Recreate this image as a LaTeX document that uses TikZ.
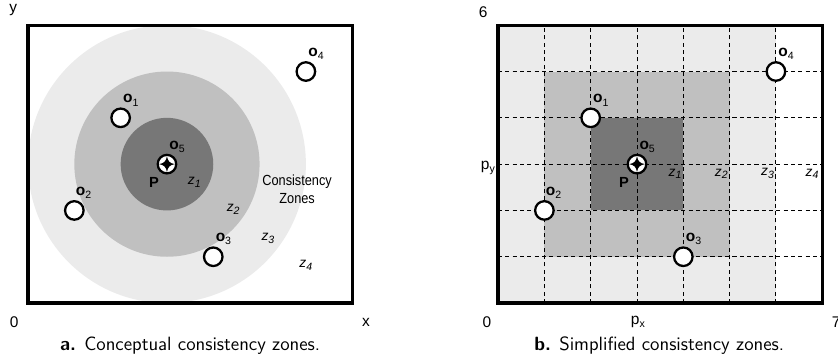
\documentclass[tikz,border=0pt]{standalone}
\usepackage{fontspec}
\newfontfamily\arial{Liberation Sans}
\definecolor{zdark}{HTML}{777777}
\definecolor{zmid}{HTML}{C0C0C0}
\definecolor{zlight}{HTML}{EBEBEB}
\newcommand{\lsub}[1]{\raisebox{-0.4ex}{\fontsize{6.5}{7}\selectfont #1}}
\tikzset{
  frame/.style={draw=black, line width=2pt},
  obj/.style={circle, draw=black, fill=white, line width=1.4pt, minimum size=0.40cm, inner sep=0pt},
  lbl/.style={font=\arial\fontsize{9.5}{10}\selectfont, inner sep=0pt},
  zlbl/.style={font=\arial\itshape\fontsize{8.5}{10}\selectfont, inner sep=0pt},
  axis/.style={font=\arial\fontsize{9.5}{11}\selectfont, inner sep=0pt},
  capt/.style={font=\sffamily\fontsize{11.8}{14}\selectfont, inner sep=0pt},
  gridline/.style={draw=black, line width=0.6pt, dash pattern=on 2.5pt off 2pt},
  pstar/.style={fill=black}
}
\newcommand{\pstarat}[1]{%
  \fill[pstar] (#1) ++(0,0.17) .. controls +(0.02,-0.11) and +(-0.11,0.02) .. ++(0.17,-0.17)
     .. controls +(-0.11,-0.02) and +(0.02,0.11) .. ++(-0.17,-0.17)
     .. controls +(-0.02,0.11) and +(0.11,-0.02) .. ++(-0.17,0.17)
     .. controls +(0.11,0.02) and +(-0.02,-0.11) .. cycle;}
\begin{document}
\begin{tikzpicture}
\useasboundingbox (-0.605,-1.296) rectangle (17.49,6.544);
% ---------- left panel ----------
\begin{scope}
  \begin{scope}
    \clip (0,0) rectangle (7,6);
    \fill[zlight] (3,3) circle (3);
    \fill[zmid] (3,3) circle (2);
    \fill[zdark] (3,3) circle (1);
  \end{scope}
  \draw[frame] (0,0) rectangle (7,6);
  \node[obj] (a1) at (2,4) {};
  \node[obj] (a2) at (1,2) {};
  \node[obj] (a3) at (4,1) {};
  \node[obj] (a4) at (6,5) {};
  \node[obj] (a5) at (3,3) {};
  \pstarat{a5.center}
  \node[lbl] (a1l) at (2.22,4.38) {\textbf{o}\lsub{1}};
  \node[lbl] (a2l) at (1.20,2.38) {\textbf{o}\lsub{2}};
  \node[lbl] (a3l) at (4.22,1.38) {\textbf{o}\lsub{3}};
  \node[lbl] (a4l) at (6.22,5.38) {\textbf{o}\lsub{4}};
  \node[lbl] (a5l) at (3.22,3.38) {\textbf{o}\lsub{5}};
  \node[lbl] (aP) at (2.72,2.61) {\fontsize{9}{10}\selectfont\textbf{P}};
  \node[zlbl] (az1) at (3.59,2.61) {z\lsub{1}};
  \node[zlbl] (az2) at (4.43,2.03) {z\lsub{2}};
  \node[zlbl] (az3) at (5.18,1.40) {z\lsub{3}};
  \node[zlbl] (az4) at (6.00,0.82) {z\lsub{4}};
  \node[lbl, align=center, font=\arial\fontsize{9}{11.5}\selectfont] (acz) at (5.81,2.46) {\scalebox{0.87}[1]{Consistency}\\\scalebox{0.87}[1]{Zones}};
  \node[axis] (ay) at (-0.32,6.33) {y};
  \node[axis] (a0) at (-0.30,-0.41) {0};
  \node[axis] (ax) at (7.30,-0.41) {x};
  \node[capt] (acap) at (3.5,-0.91) {\textbf{a.} Conceptual consistency zones.};
\end{scope}
% ---------- right panel ----------
\begin{scope}[xshift=10.15cm]
  \fill[zlight] (0,0) rectangle (6,6);
  \fill[zmid] (1,1) rectangle (5,5);
  \fill[zdark] (2,2) rectangle (4,4);
  \foreach \i in {1,...,6} \draw[gridline] (\i,0) -- (\i,6);
  \foreach \j in {1,...,5} \draw[gridline] (0,\j) -- (7,\j);
  \draw[frame] (0,0) rectangle (7,6);
  \node[obj] (b1) at (2,4) {};
  \node[obj] (b2) at (1,2) {};
  \node[obj] (b3) at (4,1) {};
  \node[obj] (b4) at (6,5) {};
  \node[obj] (b5) at (3,3) {};
  \pstarat{b5.center}
  \node[lbl] (b1l) at (2.22,4.38) {\textbf{o}\lsub{1}};
  \node[lbl] (b2l) at (1.20,2.38) {\textbf{o}\lsub{2}};
  \node[lbl] (b3l) at (4.22,1.38) {\textbf{o}\lsub{3}};
  \node[lbl] (b4l) at (6.22,5.38) {\textbf{o}\lsub{4}};
  \node[lbl] (b5l) at (3.22,3.38) {\textbf{o}\lsub{5}};
  \node[lbl] (bP) at (2.72,2.61) {\fontsize{9}{10}\selectfont\textbf{P}};
  \node[zlbl] (bz1) at (3.82,2.79) {z\lsub{1}};
  \node[zlbl] (bz2) at (4.82,2.79) {z\lsub{2}};
  \node[zlbl] (bz3) at (5.82,2.79) {z\lsub{3}};
  \node[zlbl] (bz4) at (6.78,2.79) {z\lsub{4}};
  \node[axis] (bpy) at (-0.22,2.92) {p\lsub{y}};
  \node[axis] (bpx) at (3.02,-0.41) {p\lsub{x}};
  \node[axis] (b6) at (-0.32,6.29) {6};
  \node[axis] (b0) at (-0.24,-0.41) {0};
  \node[axis] (b7) at (7.30,-0.41) {7};
  \node[capt] (bcap) at (3.48,-0.91) {\textbf{b.} Simplified consistency zones.};
\end{scope}
\end{tikzpicture}
\end{document}
